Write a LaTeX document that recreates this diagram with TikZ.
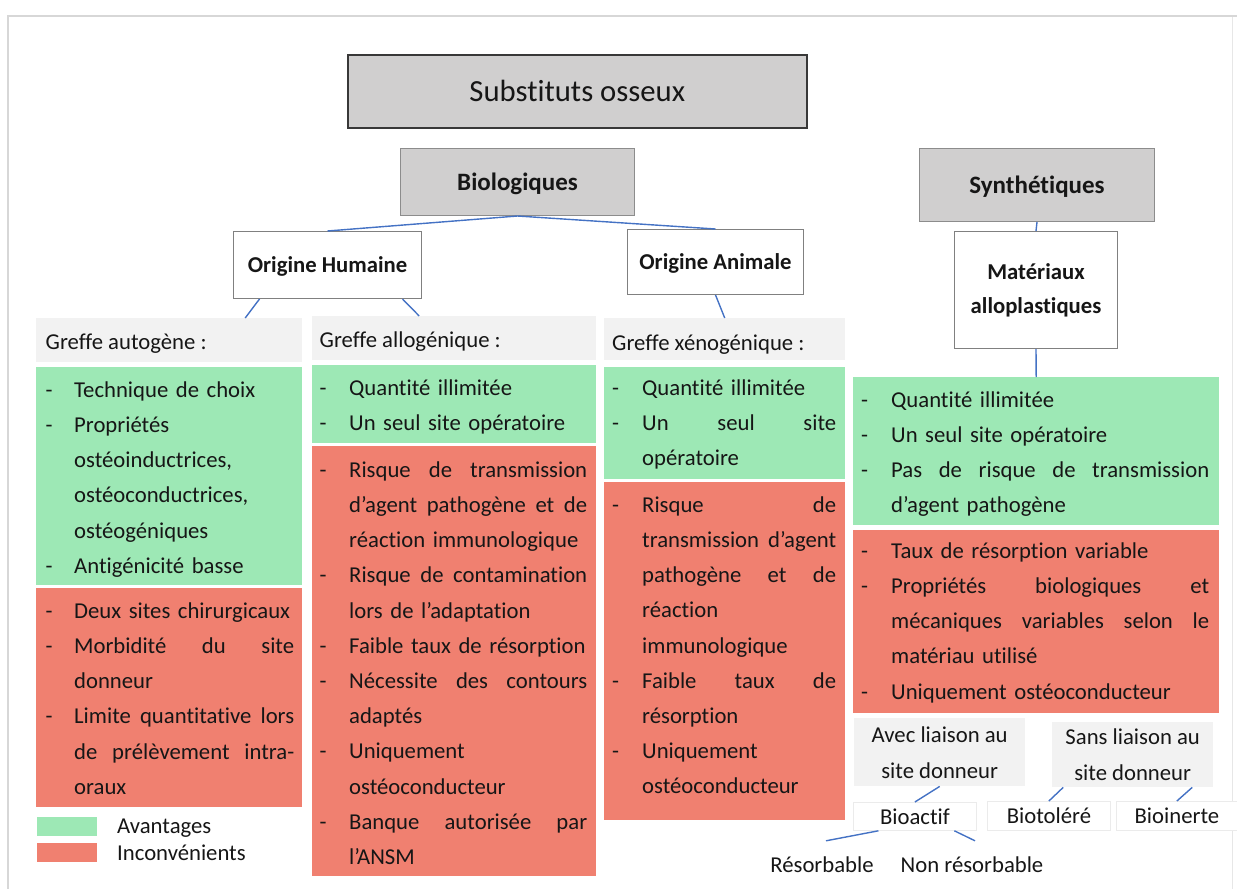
\documentclass[tikz,border=0pt]{standalone}
\usepackage{fontspec}
\setmainfont{Carlito}[Ligatures={NoCommon}]
\usetikzlibrary{calc}
\definecolor{adv}{RGB}{157,232,181}
\definecolor{inc}{RGB}{240,128,112}
\definecolor{hdr}{RGB}{242,242,242}
\definecolor{cat}{RGB}{208,207,207}
\definecolor{edge}{RGB}{68,114,196}
\definecolor{framec}{RGB}{215,215,215}
\definecolor{txt}{RGB}{22,22,22}
\newlength\cw
\newlength\ind
\newcommand\B[1]{\makebox[\ind][l]{-}#1}
\newcommand\C[1]{\hspace*{\ind}#1}
\newcommand\J[1]{{\spaceskip=\fontdimen2\font plus 1fil\relax\makebox[\cw][s]{#1}}}
\newcommand\bodyf{\fontsize{22.7bp}{35.2bp}\selectfont}
\newcommand\fst{\rule{0pt}{19bp}}
\begin{document}
\begin{tikzpicture}[x=1bp,y=-1bp,
  every node/.style={text=txt},
  rect/.style 2 args={anchor=north west, inner sep=0pt, minimum width=#1bp, minimum height=#2bp},
  catbox/.style={fill=cat, draw=black!45, line width=1bp, text depth=0pt, font=\bfseries\fontsize{25bp}{30bp}\selectfont},
  subbox/.style={fill=white, draw=black!50, line width=1bp, font=\bfseries\fontsize{22.7bp}{34bp}\selectfont, align=center},
  hdrbox/.style={fill=hdr},
  advbox/.style={fill=adv},
  incbox/.style={fill=inc},
  lbl/.style={anchor=base west, inner sep=0pt, font=\bodyf},
  coltext/.style={anchor=north west, inner sep=0pt, align=left, font=\bodyf},
  smallbox/.style={fill=white, draw=black!8, line width=0.8bp, font=\bodyf},
  conn/.style={draw=edge, line width=1.4bp}
]
\useasboundingbox (0,0) rectangle (1237,889);
% frame
\draw[framec, line width=2.5bp] (8,889) -- (8,16) -- (1237,16);
\draw[framec!60, line width=1bp] (1232,17) -- (1232,889);

% title
\node[rect={459}{73}, fill=cat, draw=black!78, line width=1.6bp,
  font=\fontsize{30.7bp}{36bp}\selectfont] (title) at (347,54) {Substituts osseux};

% categories
\node[rect={234}{67}, catbox] (bio) at (400,148) {Biologiques};
\node[rect={235}{73}, catbox] (syn) at (919,148) {Synthétiques};

% sub categories
\node[rect={188}{67}, subbox, text depth=0pt] (oh) at (233,231) {Origine Humaine};
\node[rect={176}{65}, subbox, text depth=0pt] (oa) at (627,229) {Origine Animale};
\node[rect={163}{117}, subbox] (mat) at (954,231) {Matériaux\\alloplastiques};

% column headers
\node[rect={266}{44}, hdrbox] (h1) at (36,318) {};
\node[rect={284}{44}, hdrbox] (h2) at (312,316) {};
\node[rect={241}{42}, hdrbox] (h3) at (604,318) {};
\node[lbl] (h1t) at (45.5,349) {Greffe autogène :};
\node[lbl] (h2t) at (319.5,347) {Greffe allogénique :};
\node[lbl] (h3t) at (612,350) {Greffe xénogénique :};

% colour boxes
\node[rect={266}{218}, advbox] (g1) at (36,367) {};
\node[rect={266}{219}, incbox] (r1) at (36,588) {};
\node[rect={284}{78}, advbox] (g2) at (312,365) {};
\node[rect={284}{430}, incbox] (r2) at (312,446) {};
\node[rect={241}{112}, advbox] (g3) at (604,367) {};
\node[rect={241}{338}, incbox] (r3) at (604,482) {};
\node[rect={366}{148}, advbox] (g4) at (853,377) {};
\node[rect={366}{183}, incbox] (r4) at (853,530) {};

% column 1
\node[coltext, text width=250bp] (t1g) at (45.5,378) {\setlength\ind{28.5bp}\setlength\cw{220bp}%
\fst\B{Technique de choix}\\
\B{Propriétés}\\
\C{ostéoinductrices,}\\
\C{ostéoconductrices,}\\
\C{ostéogéniques}\\
\B{Antigénicité basse}};
\node[coltext, text width=250bp] (t1r) at (45.5,599) {\setlength\ind{28.5bp}\setlength\cw{220bp}%
\fst\B{Deux sites chirurgicaux}\\
\B{\J{Morbidité du site}}\\
\C{donneur}\\
\B{\J{Limite quantitative lors}}\\
\C{\J{de prélèvement intra-}}\\
\C{oraux}};

% column 2
\node[coltext, text width=268bp] (t2g) at (319.5,376) {\setlength\ind{29.5bp}\setlength\cw{238bp}%
\fst\B{Quantité illimitée}\\
\B{Un seul site opératoire}};
\node[coltext, text width=268bp] (t2r) at (319.5,458) {\setlength\ind{29.5bp}\setlength\cw{238bp}%
\fst\B{\J{Risque de transmission}}\\
\C{\J{d’agent pathogène et de}}\\
\C{réaction immunologique}\\
\B{\J{Risque de contamination}}\\
\C{lors de l’adaptation}\\
\B{Faible taux de résorption}\\
\B{\J{Nécessite des contours}}\\
\C{adaptés}\\
\B{Uniquement}\\
\C{ostéoconducteur}\\
\B{\J{Banque autorisée par}}\\
\C{l’ANSM}};

% column 3
\node[coltext, text width=226bp] (t3g) at (612,376) {\setlength\ind{30bp}\setlength\cw{194bp}%
\fst\B{Quantité illimitée}\\
\B{\J{Un seul site}}\\
\C{opératoire}};
\node[coltext, text width=226bp] (t3r) at (612,493) {\setlength\ind{30bp}\setlength\cw{194bp}%
\fst\B{\J{Risque de}}\\
\C{\J{transmission d’agent}}\\
\C{\J{pathogène et de}}\\
\C{réaction}\\
\C{immunologique}\\
\B{\J{Faible taux de}}\\
\C{résorption}\\
\B{Uniquement}\\
\C{ostéoconducteur}};

% column 4
\node[coltext, text width=350bp] (t4g) at (861,388) {\setlength\ind{30bp}\setlength\cw{318bp}%
\fst\B{Quantité illimitée}\\
\B{Un seul site opératoire}\\
\B{\J{Pas de risque de transmission}}\\
\C{d’agent pathogène}};
\node[coltext, text width=350bp] (t4r) at (861,539) {\setlength\ind{30bp}\setlength\cw{318bp}%
\fst\B{Taux de résorption variable}\\
\B{\J{Propriétés biologiques et}}\\
\C{\J{mécaniques variables selon le}}\\
\C{matériau utilisé}\\
\B{Uniquement ostéoconducteur}};

% legend
\node[rect={60}{19}, advbox] (lg) at (37,817) {};
\node[rect={60}{19}, incbox] (lr) at (37,843) {};
\node[lbl] (lgt) at (117,833) {Avantages};
\node[lbl] (lrt) at (117,860) {Inconvénients};

% bottom right classification
\node[rect={171}{68}, hdrbox, font=\fontsize{22.7bp}{36bp}\selectfont, align=center] (avec) at (854,718) {Avec liaison au\\site donneur};
\node[rect={161}{65}, hdrbox, font=\fontsize{22.7bp}{36bp}\selectfont, align=center] (sans) at (1052,722) {Sans liaison au\\site donneur};
\node[rect={123}{28}, smallbox] (bioact) at (853,802) {Bioactif};
\node[rect={123}{29}, smallbox] (biot) at (987,801) {Biotoléré};
\node[rect={121}{29}, smallbox] (bioin) at (1116,801) {Bioinerte};
\node[font=\bodyf, minimum height=48bp, inner sep=0pt] (res) at (822,865) {Résorbable};
\node[font=\bodyf, minimum height=48bp, inner sep=0pt] (nres) at (972,865) {Non résorbable};

% connectors
\draw[conn] (bio.south) -- (oh.north);
\draw[conn] (bio.south) -- (oa.north);
\draw[conn] ([xshift=-68bp]oh.south) -- ([xshift=76bp]h1.north);
\draw[conn] ([xshift=75bp]oh.south) -- ([xshift=-35bp]h2.north);
\draw[conn] (oa.south) -- (h3.north);
\draw[conn] (syn.south) -- (mat.north);
\draw[conn] (mat.south) -- (g4.north);
\draw[conn] (avec.south) -- (bioact.north);
\draw[conn] ([xshift=-69.5bp]sans.south) -- (biot.north);
\draw[conn] ([xshift=59.5bp]sans.south) -- (bioin.north);
\draw[conn] ([xshift=-36.5bp]bioact.south) -- ([xshift=4bp]res.north);
\draw[conn] ([xshift=39.5bp]bioact.south) -- ([xshift=3bp]nres.north);
\end{tikzpicture}
\end{document}
